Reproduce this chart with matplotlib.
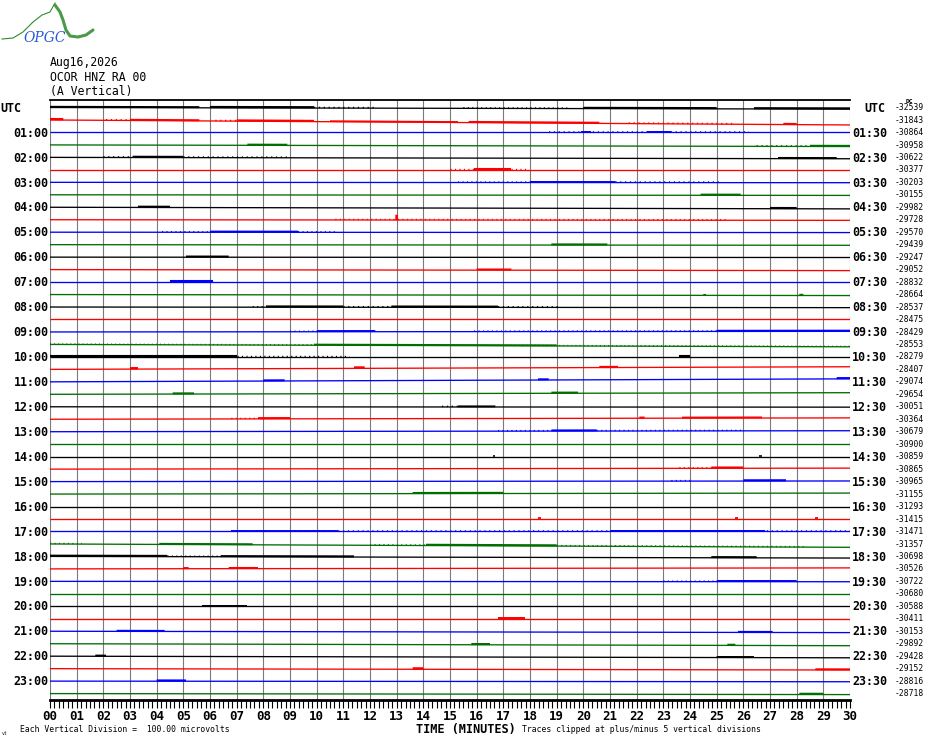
import numpy as np
import matplotlib
matplotlib.use('Agg')
import matplotlib.pyplot as plt
from matplotlib.ticker import MultipleLocator

# ---------------- data ----------------
minutes = list(range(0, 31))
tick_labels = [f"{m:02d}" for m in minutes]
trace_colors = ['#000000', '#ff0000', '#0000ff', '#006e00']
left_labels = ['UTC'] + [f"{h:02d}:00" for h in range(1, 24)]
right_labels = ['UTC'] + [f"{h:02d}:30" for h in range(1, 24)]

dc_offsets = [-32539, -31843, -30864, -30958, -30622, -30377, -30203, -30155,
              -29982, -29728, -29570, -29439, -29247, -29052, -28832, -28664,
              -28537, -28475, -28429, -28553, -28279, -28407, -29074, -29654,
              -30051, -30364, -30679, -30900, -30859, -30865, -30965, -31155,
              -31293, -31415, -31471, -31357, -30698, -30526, -30722, -30680,
              -30588, -30411, -30153, -29892, -29428, -29152, -28816, -28718]

# baseline drift over each 30-min line (microvolts, positive = downward)
drift_uv = [13, 40, 0, 13, 11, 0, 3, 5, 13, 5, 3, 5, 3, 8, 0, 8,
            5, 0, -5, 19, 0, -21, -24, -13, 3, -11, -8, 0, 0, -8, -5, -8,
            0, 0, 0, 27, 13, -8, 3, 0, 0, 0, 11, 16, 13, 11, 5, 8]

# noise events: (trace, start min, end min, amplitude uV, kind d=dense s=sparse)
events = [
    (0, 0, 5.6, 11, 'd'), (0, 6, 9.9, 13, 'd'), (0, 9.9, 12.2, 9, 's'),
    (0, 15.5, 19.5, 8, 's'), (0, 20, 25, 12, 'd'), (0, 26.4, 30, 12, 'd'),
    (1, 0, 0.5, 14, 'd'), (1, 2.1, 3, 9, 's'), (1, 3, 5.6, 11, 'd'),
    (1, 6.2, 7, 9, 's'), (1, 7, 9.9, 12, 'd'), (1, 10.5, 15.3, 9, 'd'),
    (1, 15.7, 20.6, 11, 'd'), (1, 21.7, 25.6, 9, 's'), (1, 27.5, 28, 11, 'd'),
    (2, 18.7, 26.2, 9, 's'), (2, 19.9, 20.3, 11, 'd'), (2, 22.4, 23.3, 11, 'd'),
    (3, 7.4, 8.9, 11, 'd'), (3, 26.5, 28.5, 9, 's'), (3, 28.5, 30, 11, 'd'),
    (4, 2, 3.1, 9, 's'), (4, 3.1, 5, 12, 'd'), (4, 5, 8.9, 9, 's'), (4, 27.3, 29.5, 11, 'd'),
    (5, 15, 15.9, 8, 's'), (5, 15.9, 17.3, 12, 'd'), (5, 17.3, 17.9, 8, 's'),
    (6, 15.3, 18, 8, 's'), (6, 18, 21.2, 10, 'd'), (6, 21.2, 25.2, 9, 's'),
    (7, 24.4, 25.9, 11, 'd'),
    (8, 3.3, 4.5, 12, 'd'), (8, 27, 28, 12, 'd'),
    (9, 10.7, 25.4, 8, 's'), (9, 12.95, 13.05, 40, 'd'),
    (10, 4.2, 6, 8, 's'), (10, 6, 9.3, 11, 'd'), (10, 9.3, 10.8, 8, 's'),
    (11, 18.8, 20.9, 11, 'd'),
    (12, 5.1, 6.7, 11, 'd'),
    (13, 16, 17.3, 11, 'd'),
    (14, 4.5, 6.1, 12, 'd'),
    (15, 24.5, 24.6, 9, 'd'), (15, 28.1, 28.25, 11, 'd'),
    (16, 7.6, 8.1, 8, 's'), (16, 8.1, 11, 12, 'd'), (16, 11, 12.8, 9, 's'),
    (16, 12.8, 16.8, 12, 'd'), (16, 16.8, 19.1, 9, 's'),
    (18, 9, 10, 8, 's'), (18, 10, 12.2, 11, 'd'), (18, 15.9, 25, 8, 's'), (18, 25, 30, 11, 'd'),
    (19, 0, 30, 7, 's'), (19, 9.9, 19, 10, 'd'),
    (20, 0, 7, 12, 'd'), (20, 7, 11.2, 8, 's'), (20, 23.6, 24, 12, 'd'),
    (21, 3, 3.3, 14, 'd'), (21, 11.4, 11.8, 14, 'd'), (21, 20.6, 21.3, 11, 'd'),
    (22, 8, 8.8, 11, 'd'), (22, 18.3, 18.7, 11, 'd'), (22, 29.5, 30, 12, 'd'),
    (23, 4.6, 5.4, 11, 'd'), (23, 18.8, 19.8, 11, 'd'),
    (24, 14.7, 15.3, 9, 's'), (24, 15.3, 16.7, 10, 'd'),
    (25, 6.8, 7.8, 8, 's'), (25, 7.8, 9, 12, 'd'), (25, 22.1, 22.3, 11, 'd'), (25, 23.7, 26.7, 10, 'd'),
    (26, 16.8, 18.8, 8, 's'), (26, 18.8, 20.5, 11, 'd'), (26, 20.5, 26, 8, 's'),
    (28, 16.6, 16.7, 8, 'd'), (28, 26.6, 26.7, 8, 'd'),
    (29, 23.6, 24.8, 8, 's'), (29, 24.8, 26, 12, 'd'),
    (30, 23.3, 24.1, 8, 's'), (30, 26, 27.6, 12, 'd'),
    (31, 13.6, 17, 11, 'd'),
    (33, 18.3, 18.4, 10, 'd'), (33, 25.7, 25.8, 10, 'd'), (33, 28.7, 28.8, 10, 'd'),
    (34, 6.8, 30, 9, 's'), (34, 6.8, 10.8, 10, 'd'), (34, 21, 26.8, 11, 'd'),
    (35, 0, 1.2, 8, 's'), (35, 4.1, 7.6, 10, 'd'), (35, 12, 14.1, 8, 's'),
    (35, 14.1, 19, 12, 'd'), (35, 19, 28.3, 8, 's'),
    (36, 0, 4.4, 12, 'd'), (36, 4.4, 6.4, 8, 's'), (36, 6.4, 11.4, 11, 'd'), (36, 24.8, 26.5, 11, 'd'),
    (37, 5, 5.2, 11, 'd'), (37, 6.7, 7.8, 11, 'd'),
    (38, 23, 25, 8, 's'), (38, 25, 28, 11, 'd'),
    (40, 5.7, 7.4, 11, 'd'),
    (41, 16.8, 17.8, 11, 'd'),
    (42, 2.5, 4.3, 10, 'd'), (42, 25.8, 27.1, 10, 'd'),
    (43, 15.8, 16.5, 12, 'd'), (43, 25.4, 25.7, 11, 'd'),
    (44, 1.7, 2.1, 11, 'd'), (44, 25, 26.4, 10, 'd'),
    (45, 13.6, 14, 14, 'd'), (45, 28.7, 30, 11, 'd'),
    (46, 4, 5.1, 12, 'd'),
    (47, 28.1, 29, 12, 'd'),
]

# ---------------- figure ----------------
W, H = 930, 744
fig = plt.figure(figsize=(W / 100, H / 100), dpi=100)
fig.patch.set_facecolor('white')


def fx(x):
    return x / W


def fy(y):
    return 1 - y / H


TOP, BOT, LEFT, RIGHT = 100, 700, 50, 850
Y0, SP = 107.5, 12.47  # first trace pixel row, spacing
PT_PER_PX = 72.0 / 100.0

ax = fig.add_axes([fx(LEFT), fy(BOT), (RIGHT - LEFT) / W, (BOT - TOP) / H])
ax.set_xlim(0, 30)
ax.set_ylim((BOT - Y0) / SP, (TOP - Y0) / SP)
ax.set_facecolor('white')

for m in minutes:
    ax.axvline(m, color='#7a7a7a', lw=0.8, zorder=1)

n = len(dc_offsets)
for i in range(n):
    c = trace_colors[i % 4]
    d = drift_uv[i] / 100.0
    ax.plot([0, 30], [i, i + d], color=c, lw=0.95, solid_capstyle='butt', zorder=3)

for (i, t0, t1, amp, kind) in events:
    c = trace_colors[i % 4]
    t = np.array([t0, t1])
    base = i + drift_uv[i] / 100.0 * t / 30.0
    amp_div = amp / 100.0
    amp_px = amp_div * SP
    if kind == 'd':
        ax.plot(t, base - amp_div / 2.0, color=c, lw=(amp_px + 0.6) * PT_PER_PX,
                solid_capstyle='butt', zorder=3)
    else:
        ax.plot(t, base - amp_div / 2.0, color=c, lw=(amp_px + 0.4) * PT_PER_PX,
                dashes=(0.8, 2.4), dash_capstyle='butt', zorder=3)

for s in ['left', 'right']:
    ax.spines[s].set_visible(False)
ax.spines['top'].set_color('black')
ax.spines['top'].set_linewidth(1.3)
ax.spines['bottom'].set_color('black')
ax.spines['bottom'].set_linewidth(2.0)

ax.xaxis.set_minor_locator(MultipleLocator(1 / 6))
ax.set_xticks(minutes)
ax.set_xticklabels(tick_labels, fontfamily='DejaVu Sans Mono', fontweight='bold', fontsize=9)
ax.tick_params(axis='x', which='both', direction='out', length=6, width=0.8,
               color='black', pad=1)
ax.set_yticks([])

# hour labels and DC offsets
mono = 'DejaVu Sans Mono'
for i in range(n):
    ypx = Y0 + i * SP
    if i % 2 == 0:
        lab_l = left_labels[i // 2]
        lab_r = right_labels[i // 2]
        if lab_l == 'UTC':
            fig.text(fx(0), fy(ypx + 4.2), lab_l, ha='left', va='baseline',
                     fontfamily=mono, fontweight='bold', fontsize=8.4)
            fig.text(fx(864), fy(ypx + 4.2), lab_r, ha='left', va='baseline',
                     fontfamily=mono, fontweight='bold', fontsize=8.4)
        else:
            fig.text(fx(48.5), fy(ypx + 4.2), lab_l, ha='right', va='baseline',
                     fontfamily=mono, fontweight='bold', fontsize=8.4)
            fig.text(fx(852), fy(ypx + 4.2), lab_r, ha='left', va='baseline',
                     fontfamily=mono, fontweight='bold', fontsize=8.4)
    fig.text(fx(895), fy(ypx + 2.6), f"{dc_offsets[i]}", ha='left', va='baseline',
             fontfamily=mono, fontsize=5.8)

fig.text(fx(906), fy(103), 'DC', ha='left', va='baseline', fontfamily=mono,
         fontweight='bold', fontsize=4.5)

# header
fig.text(fx(50), fy(66), 'Aug16,2026', ha='left', va='baseline', fontfamily=mono, fontsize=8.3)
fig.text(fx(50), fy(81), 'OCOR HNZ RA 00', ha='left', va='baseline', fontfamily=mono, fontsize=8.3)
fig.text(fx(50), fy(95), '(A Vertical)', ha='left', va='baseline', fontfamily=mono, fontsize=8.3)

# footer
fig.text(fx(20), fy(732), 'Each Vertical Division =  100.00 microvolts', ha='left',
         va='baseline', fontfamily=mono, fontsize=5.9)
fig.text(fx(466), fy(733), 'TIME (MINUTES)', ha='center', va='baseline',
         fontfamily=mono, fontweight='bold', fontsize=8.6)
fig.text(fx(522), fy(732), 'Traces clipped at plus/minus 5 vertical divisions', ha='left',
         va='baseline', fontfamily=mono, fontsize=5.9)
fig.text(fx(2), fy(735), 'vt', ha='left', va='baseline', fontfamily=mono, fontsize=3.5)

# logo
lax = fig.add_axes([0, fy(45), 100 / W, 45 / H])
lax.set_xlim(0, 100)
lax.set_ylim(45, 0)
lax.axis('off')
thin_x = [2, 13, 23, 33, 42, 50, 55]
thin_y = [39, 38, 32, 22, 15, 12, 3]
thick_x = [55, 60, 63, 66, 70, 78, 86, 93]
thick_y = [5, 12, 20, 30, 36, 37, 35, 30]
lax.plot(thin_x, thin_y, color='#2f8a2f', lw=0.8)
lax.plot(thick_x, thick_y, color='#4a9a4a', lw=2.2, solid_capstyle='round')
lax.text(23, 42, 'OPGC', ha='left', va='baseline', fontfamily='DejaVu Serif',
         fontstyle='italic', fontsize=10, color='#2a5ad8')

fig.savefig('out.png', dpi=100, facecolor='white')
